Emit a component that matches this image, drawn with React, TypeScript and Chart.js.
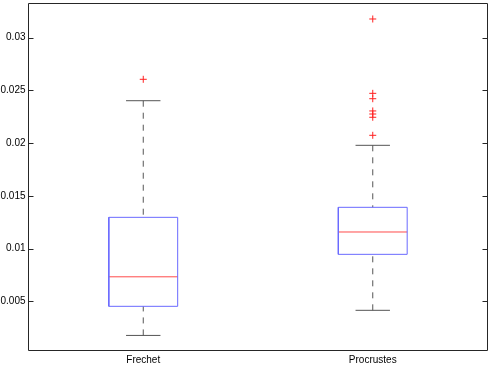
import React, { useEffect, useRef } from "react";
import { Chart, registerables } from "chart.js";

Chart.register(...registerables);

const categories = ["Frechet", "Procrustes"];
const lowerWhisker = [0.00176, 0.00414];
const q1 = [0.00452, 0.00945];
const median = [0.00732, 0.01157];
const q3 = [0.01296, 0.01391];
const upperWhisker = [0.02402, 0.01979];
const outliersFrechet = [0.02605];
const outliersProcrustes = [0.03177, 0.02472, 0.02421, 0.02305, 0.02276, 0.02245, 0.02074];
const yTicks = [0.005, 0.01, 0.015, 0.02, 0.025, 0.03];
const yMin = 0.00033;
const yMax = 0.03324;

const BOX_HALF = 0.15;
const CAP_HALF = 0.075;
const BOX_COLOR = "#6a6aff";
const MED_COLOR = "#ff4a4a";
const WHISK_COLOR = "#555555";

const frameTicks = {
  id: "frameTicks",
  afterDraw(chart: any) {
    const { ctx, chartArea } = chart;
    const { left, right, top, bottom } = chartArea;
    const y = chart.scales.y;
    ctx.save();
    ctx.strokeStyle = "#262626";
    ctx.lineWidth = 1;
    ctx.beginPath();
    ctx.rect(left, top, right - left, bottom - top);
    ctx.stroke();
    ctx.beginPath();
    for (const t of yTicks) {
      const py = Math.round(y.getPixelForValue(t)) + 0.5;
      ctx.moveTo(left, py);
      ctx.lineTo(left + 5, py);
      ctx.moveTo(right, py);
      ctx.lineTo(right - 5, py);
    }
    ctx.stroke();
    ctx.restore();
  },
};

export default function App() {
  const ref = useRef<HTMLCanvasElement | null>(null);
  useEffect(() => {
    if (!ref.current) return;
    const datasets: any[] = [];
    categories.forEach((_, i) => {
      const x = i + 1;
      datasets.push({
        type: "line",
        data: [
          { x: x - BOX_HALF, y: q1[i] },
          { x: x + BOX_HALF, y: q1[i] },
          { x: x + BOX_HALF, y: q3[i] },
          { x: x - BOX_HALF, y: q3[i] },
          { x: x - BOX_HALF, y: q1[i] },
        ],
        borderColor: BOX_COLOR,
        borderWidth: 1,
        pointRadius: 0,
        fill: false,
      });
      datasets.push({
        type: "line",
        data: [
          { x: x - BOX_HALF, y: median[i] },
          { x: x + BOX_HALF, y: median[i] },
        ],
        borderColor: MED_COLOR,
        borderWidth: 1,
        pointRadius: 0,
      });
      datasets.push({
        type: "line",
        data: [
          { x, y: upperWhisker[i] },
          { x, y: q3[i] },
        ],
        borderColor: WHISK_COLOR,
        borderWidth: 1,
        borderDash: [6, 6],
        pointRadius: 0,
      });
      datasets.push({
        type: "line",
        data: [
          { x, y: lowerWhisker[i] },
          { x, y: q1[i] },
        ],
        borderColor: WHISK_COLOR,
        borderWidth: 1,
        borderDash: [6, 6],
        pointRadius: 0,
      });
      datasets.push({
        type: "line",
        data: [
          { x: x - CAP_HALF, y: upperWhisker[i] },
          { x: x + CAP_HALF, y: upperWhisker[i] },
        ],
        borderColor: WHISK_COLOR,
        borderWidth: 1,
        pointRadius: 0,
      });
      datasets.push({
        type: "line",
        data: [
          { x: x - CAP_HALF, y: lowerWhisker[i] },
          { x: x + CAP_HALF, y: lowerWhisker[i] },
        ],
        borderColor: WHISK_COLOR,
        borderWidth: 1,
        pointRadius: 0,
      });
    });
    [outliersFrechet, outliersProcrustes].forEach((arr, i) => {
      datasets.push({
        type: "scatter",
        data: arr.map((v) => ({ x: i + 1, y: v })),
        pointStyle: "cross",
        pointRadius: 3.5,
        borderColor: "#ff2020",
        borderWidth: 1,
        showLine: false,
      });
    });

    const chart = new Chart(ref.current, {
      type: "scatter",
      data: { datasets },
      options: {
        animation: false,
        responsive: false,
        maintainAspectRatio: false,
        layout: { autoPadding: false, padding: { left: 0, right: 3.5, top: 3.5, bottom: 0 } },
        plugins: { legend: { display: false }, tooltip: { enabled: false } },
        scales: {
          x: {
            type: "linear",
            min: 0.5,
            max: 2.5,
            grid: { display: false, drawTicks: false },
            border: { display: false },
            afterBuildTicks: (s: any) => {
              s.ticks = categories.map((_, i) => ({ value: i + 1 }));
            },
            afterFit: (s: any) => {
              s.height = 16.5;
              s.paddingLeft = 0;
              s.paddingRight = 0;
            },
            ticks: {
              autoSkip: false,
              maxRotation: 0,
              padding: 4,
              color: "#000",
              font: { family: "Liberation Sans, Arial, sans-serif", size: 10 },
              callback: (v: any) => categories[Math.round(v) - 1] ?? "",
            },
          },
          y: {
            type: "linear",
            min: yMin,
            max: yMax,
            grid: { display: false, drawTicks: false },
            border: { display: false },
            afterBuildTicks: (s: any) => {
              s.ticks = yTicks.map((v) => ({ value: v }));
            },
            afterFit: (s: any) => {
              s.width = 28.5;
              s.paddingTop = 0;
              s.paddingBottom = 0;
            },
            ticks: {
              padding: 3,
              color: "#000",
              font: { family: "Liberation Sans, Arial, sans-serif", size: 10 },
              callback: (v: any) => String(v),
            },
          },
        },
      },
      plugins: [frameTicks],
    });
    return () => chart.destroy();
  }, []);

  return (
    <div style={{ position: "fixed", left: 0, top: 0, width: 491, height: 367, background: "#fff" }}>
      <canvas ref={ref} width={491} height={367} style={{ width: 491, height: 367 }} />
    </div>
  );
}
